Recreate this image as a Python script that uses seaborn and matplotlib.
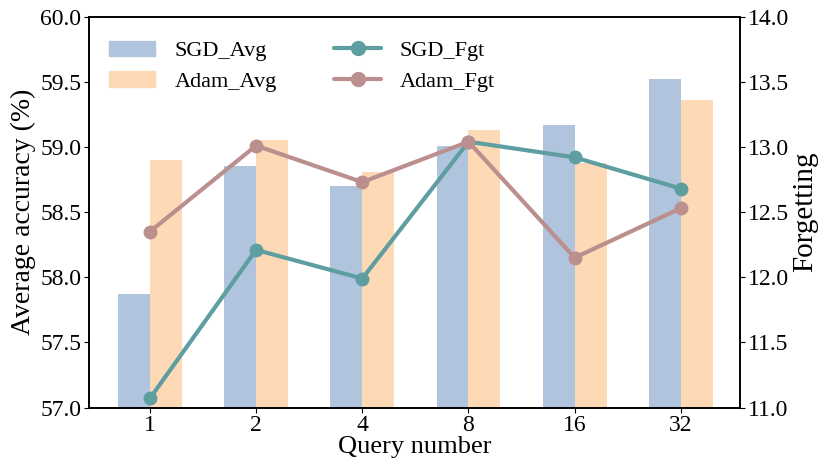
import matplotlib
matplotlib.use("Agg")
import matplotlib.pyplot as plt
import numpy as np
import seaborn as sns
import pandas as pd
from matplotlib.patches import Patch
from matplotlib.lines import Line2D

# query number vs accuracy (bars) and forgetting (lines)
queries = ['1', '2', '4', '8', '16', '32']
sgd_avg = [57.87, 58.85, 58.70, 59.01, 59.17, 59.52]
adam_avg = [58.90, 59.05, 58.81, 59.13, 58.88, 59.36]
sgd_fgt = [11.07, 12.21, 11.99, 13.04, 12.92, 12.68]
adam_fgt = [12.35, 13.01, 12.73, 13.04, 12.15, 12.53]

sns.set_style("ticks")
plt.rcParams['font.family'] = ['Liberation Serif', 'DejaVu Serif']
plt.rcParams['text.color'] = 'black'
plt.rcParams['axes.labelcolor'] = 'black'
plt.rcParams['xtick.color'] = 'black'
plt.rcParams['ytick.color'] = 'black'
plt.rcParams['axes.edgecolor'] = 'black'

bars = pd.DataFrame({
    'query': queries * 2,
    'acc': sgd_avg + adam_avg,
    'opt': ['SGD_Avg'] * len(queries) + ['Adam_Avg'] * len(queries),
})

fig, ax = plt.subplots(figsize=(8.3, 4.75), dpi=100)
sns.barplot(data=bars, x='query', y='acc', hue='opt', order=queries,
            palette=['#b0c4de', '#fdd9b5'], width=0.6, saturation=1,
            linewidth=0, ax=ax, legend=False)
ax.set_ylim(57, 60)
ax.set_xlim(-0.575, 5.56)
yt = np.arange(57, 60.01, 0.5)
ax.set_yticks(yt)
ax.set_yticklabels([f'{v:.1f}' for v in yt])
ax.set_xlabel('Query number', fontsize=19, labelpad=0)
ax.set_ylabel('Average accuracy (%)', fontsize=20, labelpad=3)
ax.tick_params(labelsize=17, length=3.5, pad=2)

ax2 = ax.twinx()
lines = pd.DataFrame({
    'pos': list(range(len(queries))) * 2,
    'fgt': sgd_fgt + adam_fgt,
    'opt': ['SGD_Fgt'] * len(queries) + ['Adam_Fgt'] * len(queries),
})
sns.lineplot(data=lines, x='pos', y='fgt', hue='opt',
             palette=['#5f9ea0', '#bc8f8f'], marker='o', markersize=10,
             markeredgewidth=0, linewidth=3, ax=ax2, legend=False)
ax2.set_ylim(11, 14)
yt2 = np.arange(11, 14.01, 0.5)
ax2.set_yticks(yt2)
ax2.set_yticklabels([f'{v:.1f}' for v in yt2])
ax2.set_ylabel('Forgetting', fontsize=21, labelpad=2)
ax2.tick_params(labelsize=17, length=3.5, pad=2)
ax2.set_xlabel('')

for a in (ax, ax2):
    for s in a.spines.values():
        s.set_linewidth(1.2)
        s.set_visible(True)

handles = [
    Patch(color='#b0c4de', label='SGD_Avg'),
    Patch(color='#fdd9b5', label='Adam_Avg'),
    Line2D([], [], color='#5f9ea0', marker='o', markersize=10, lw=3, label='SGD_Fgt'),
    Line2D([], [], color='#bc8f8f', marker='o', markersize=10, lw=3, label='Adam_Fgt'),
]
ax2.legend(handles=handles, ncol=2, loc='upper left', frameon=False, fontsize=16,
           handlelength=2.1, handletextpad=0.85, columnspacing=2.6, labelspacing=0.45,
           bbox_to_anchor=(0.0, 0.99))

plt.subplots_adjust(left=0.107, right=0.892, top=0.965, bottom=0.142)
plt.savefig("out.png")
